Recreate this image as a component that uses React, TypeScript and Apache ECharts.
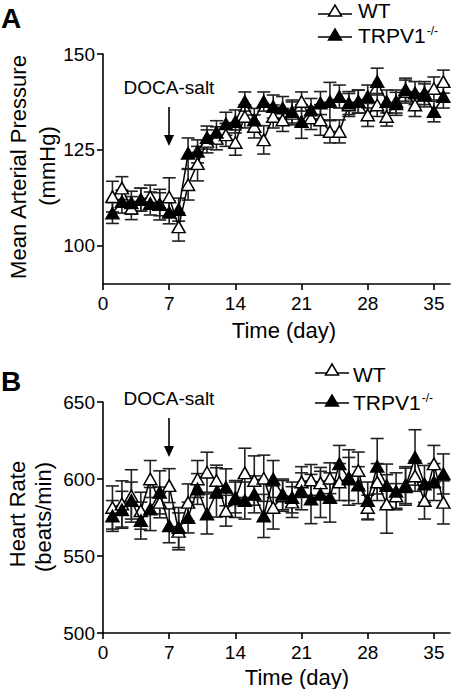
import React, { useEffect, useRef } from "react";
import * as echarts from "echarts";

const days = [1, 2, 3, 4, 5, 6, 7, 8, 9, 10, 11, 12, 13, 14, 15, 16, 17, 18, 19, 20, 21, 22, 23, 24, 25, 26, 27, 28, 29, 30, 31, 32, 33, 34, 35, 36];
const xTicks = [0, 7, 14, 21, 28, 35];
const mapTicks = [100, 125, 150];
const hrTicks = [500, 550, 600, 650];

const mapWT = [112.8, 115.0, 109.8, 112.0, 112.8, 110.7, 112.7, 104.9, 115.9, 121.4, 127.2, 128.0, 128.9, 126.9, 133.7, 131.1, 127.6, 133.7, 132.8, 134.5, 137.6, 133.3, 132.8, 129.8, 129.8, 136.7, 137.6, 134.1, 136.7, 133.7, 137.6, 140.2, 136.7, 139.8, 141.0, 142.8];
const mapWTsem = [4, 3, 3, 3, 3, 4, 5, 3.7, 4, 4.5, 3, 3, 3, 3.3, 3, 3, 3.7, 3, 3, 3, 2.5, 3, 4, 3, 3, 3, 3, 3, 3, 2.5, 3, 3, 3, 3, 3, 3];
const mapKO = [108.5, 111.5, 111.2, 112.0, 111.0, 110.8, 108.7, 109.4, 124.1, 124.6, 128.2, 129.6, 131.8, 132.4, 137.6, 132.8, 137.6, 136.3, 135.9, 135.0, 132.4, 135.4, 137.2, 137.6, 138.9, 137.2, 137.6, 138.9, 142.8, 137.6, 137.0, 140.7, 139.8, 139.2, 135.0, 138.9];
const mapKOsem = [2.7, 3, 3, 3, 3, 3, 3, 3, 4, 3, 3, 3, 3, 3, 2.5, 3, 2.5, 3, 3, 3, 4.4, 3, 3, 5, 3, 3, 3, 3, 3.5, 3, 3, 3, 3, 3, 2.7, 3];

const hrWT = [581.5, 583.8, 589.0, 579.4, 600.0, 584.8, 595.7, 566.0, 584.8, 600.0, 604.4, 599.0, 579.4, 587.0, 604.0, 599.0, 600.5, 581.5, 589.0, 585.0, 598.0, 599.4, 597.5, 600.5, 598.0, 601.0, 605.5, 581.5, 598.0, 583.8, 589.0, 596.0, 602.0, 586.0, 609.8, 584.8];
const hrWTsem = [14, 15, 17, 12, 12, 10, 11, 12, 12, 12, 13, 10, 10, 12, 16, 16, 15, 14, 10, 10, 10, 10, 10, 10, 12, 18, 12, 8, 12, 19, 8, 12, 10, 12, 12, 14];
const hrKO = [576.0, 580.0, 586.0, 573.0, 580.5, 591.3, 569.6, 568.5, 575.0, 593.5, 577.3, 591.3, 594.6, 588.0, 586.0, 590.0, 576.0, 600.0, 590.0, 588.0, 592.0, 587.0, 590.0, 588.0, 609.8, 600.0, 596.0, 586.0, 608.3, 595.7, 592.0, 595.0, 614.0, 596.8, 598.0, 603.3];
const hrKOsem = [10, 12, 12, 12, 14, 14, 11, 13, 10, 10, 13, 16, 12, 10, 12, 12, 14, 12, 10, 10, 12, 16, 15, 16, 12, 14, 12, 12, 18, 14, 12, 12, 18, 12, 12, 13];

const FONT = "'Liberation Sans', Arial, Helvetica, sans-serif";

function renderErr(params: any, api: any) {
  const x = api.value(0);
  const y = api.value(1);
  const e = api.value(2);
  const hi = api.coord([x, y + e]);
  const lo = api.coord([x, y - e]);
  const hw = 6.5;
  const style = { stroke: "#222", lineWidth: 1.6, fill: null };
  return {
    type: "group",
    children: [
      { type: "line", shape: { x1: hi[0], y1: hi[1], x2: lo[0], y2: lo[1] }, style },
      { type: "line", shape: { x1: hi[0] - hw, y1: hi[1], x2: hi[0] + hw, y2: hi[1] }, style },
      { type: "line", shape: { x1: lo[0] - hw, y1: lo[1], x2: lo[0] + hw, y2: lo[1] }, style },
    ],
  };
}

function xAxisCfg(gridIndex: number) {
  return {
    type: "value",
    gridIndex,
    min: 0,
    max: 36.7,
    axisLine: { show: true, onZero: false, lineStyle: { color: "#000", width: 1.6 } },
    axisTick: { show: true, length: 6, customValues: xTicks, lineStyle: { color: "#000", width: 1.6 } },
    axisLabel: { customValues: xTicks, color: "#000", fontSize: 19, fontFamily: FONT, margin: 10 },
    splitLine: { show: false },
  };
}

function yAxisCfg(gridIndex: number, min: number, max: number, ticks: number[]) {
  return {
    type: "value",
    gridIndex,
    min,
    max,
    axisLine: { show: true, onZero: false, lineStyle: { color: "#000", width: 1.6 } },
    axisTick: { show: true, length: 6, customValues: ticks, lineStyle: { color: "#000", width: 1.6 } },
    axisLabel: { customValues: ticks, color: "#000", fontSize: 19, fontFamily: FONT, margin: 8 },
    splitLine: { show: false },
  };
}

function lineSeries(name: string, idx: number, vals: number[], filled: boolean, z: number) {
  return {
    type: "line",
    name,
    xAxisIndex: idx,
    yAxisIndex: idx,
    data: days.map((d, i) => [d, vals[i]]),
    symbol: "triangle",
    symbolSize: [13, 11.5],
    showSymbol: true,
    lineStyle: { color: "#000", width: 1.5 },
    itemStyle: { color: filled ? "#000" : "#fff", borderColor: "#000", borderWidth: 1.5 },
    z,
  };
}

function errSeries(idx: number, vals: number[], sems: number[]) {
  return {
    type: "custom",
    xAxisIndex: idx,
    yAxisIndex: idx,
    data: days.map((d, i) => [d, vals[i], sems[i]]),
    encode: { x: 0, y: 1 },
    renderItem: renderErr,
    z: 1,
  };
}

function legend(x0: number, x1: number, textX: number, yWT: number, yKO: number, tWT: number, tKO: number) {
  const cx = (x0 + x1) / 2;
  const tri = (cy: number, fill: string) => ({
    type: "polygon",
    shape: { points: [[cx - 6.5, cy + 5], [cx + 6.5, cy + 5], [cx, cy - 6]] },
    style: { fill, stroke: "#000", lineWidth: 1.5 },
    z: 10,
  });
  const ln = (y: number) => ({
    type: "line",
    shape: { x1: x0, y1: y, x2: x1, y2: y },
    style: { stroke: "#000", lineWidth: 1.5 },
    z: 9,
  });
  return [
    ln(yWT),
    tri(yWT - 3, "#fff"),
    ln(yKO),
    tri(yKO - 2, "#000"),
    { type: "text", x: textX, y: tWT, style: { text: "WT", fontSize: 21, fontFamily: FONT, fill: "#000", align: "left", verticalAlign: "middle" } },
    {
      type: "text",
      x: textX,
      y: tKO,
      style: {
        text: "TRPV1{s|-/-}",
        fontSize: 21,
        fontFamily: FONT,
        fill: "#000",
        align: "left",
        verticalAlign: "middle",
        rich: { s: { fontSize: 12, fontFamily: FONT, fill: "#000", verticalAlign: "top", padding: [0, 0, 0, 1] } },
      },
    },
  ];
}

function arrow(x: number, yText: number, y0: number, y1: number) {
  return [
    { type: "text", x, y: yText, style: { text: "DOCA-salt", fontSize: 19, fontFamily: FONT, fill: "#000", align: "center", verticalAlign: "middle" } },
    { type: "line", shape: { x1: x, y1: y0, x2: x, y2: y1 - 6 }, style: { stroke: "#000", lineWidth: 1.6 } },
    { type: "polygon", shape: { points: [[x - 5, y1 - 11], [x + 5, y1 - 11], [x, y1]] }, style: { fill: "#000" } },
  ];
}

function vText(text: string, x: number, y: number) {
  return {
    type: "text",
    x,
    y,
    rotation: Math.PI / 2,
    style: { text, fontSize: 22, fontFamily: FONT, fill: "#000", align: "center", verticalAlign: "middle" },
  };
}

function hText(text: string, x: number, y: number, size: number, bold = false) {
  return {
    type: "text",
    x,
    y,
    style: { text, fontSize: size, fontWeight: bold ? "bold" : "normal", fontFamily: FONT, fill: "#000", align: "center", verticalAlign: "middle" },
  };
}

export default function App() {
  const ref = useRef<HTMLDivElement>(null);
  useEffect(() => {
    if (!ref.current) return;
    const chart = echarts.init(ref.current, undefined, { renderer: "svg" });
    chart.setOption({
      animation: false,
      backgroundColor: "#fff",
      grid: [
        { left: 103, top: 54, width: 347, height: 230 },
        { left: 103, top: 402, width: 347, height: 231 },
      ],
      xAxis: [xAxisCfg(0), xAxisCfg(1)],
      yAxis: [yAxisCfg(0, 90, 150, mapTicks), yAxisCfg(1, 500, 650, hrTicks)],
      series: [
        errSeries(0, mapWT, mapWTsem),
        errSeries(0, mapKO, mapKOsem),
        lineSeries("WT", 0, mapWT, false, 3),
        lineSeries("TRPV1-/-", 0, mapKO, true, 4),
        errSeries(1, hrWT, hrWTsem),
        errSeries(1, hrKO, hrKOsem),
        lineSeries("WT", 1, hrWT, false, 3),
        lineSeries("TRPV1-/-", 1, hrKO, true, 4),
      ],
      graphic: [
        hText("A", 11, 18, 28, true),
        hText("B", 11, 381, 28, true),
        vText("Mean Arterial Pressure", 18.5, 167),
        vText("(mmHg)", 47, 166),
        vText("Heart Rate", 17, 514),
        vText("(beats/min)", 43.5, 517),
        hText("Time (day)", 284, 330, 22),
        hText("Time (day)", 297, 677, 22),
        ...arrow(169, 87, 107, 146),
        ...arrow(169, 398.5, 418, 457),
        ...legend(318, 352, 358, 14, 37, 10, 35.5),
        ...legend(315, 349, 353, 373, 403, 374.5, 402.5),
      ],
    });
    return () => chart.dispose();
  }, []);
  return <div ref={ref} style={{ position: "absolute", left: 0, top: 0, width: 452, height: 689 }} />;
}
